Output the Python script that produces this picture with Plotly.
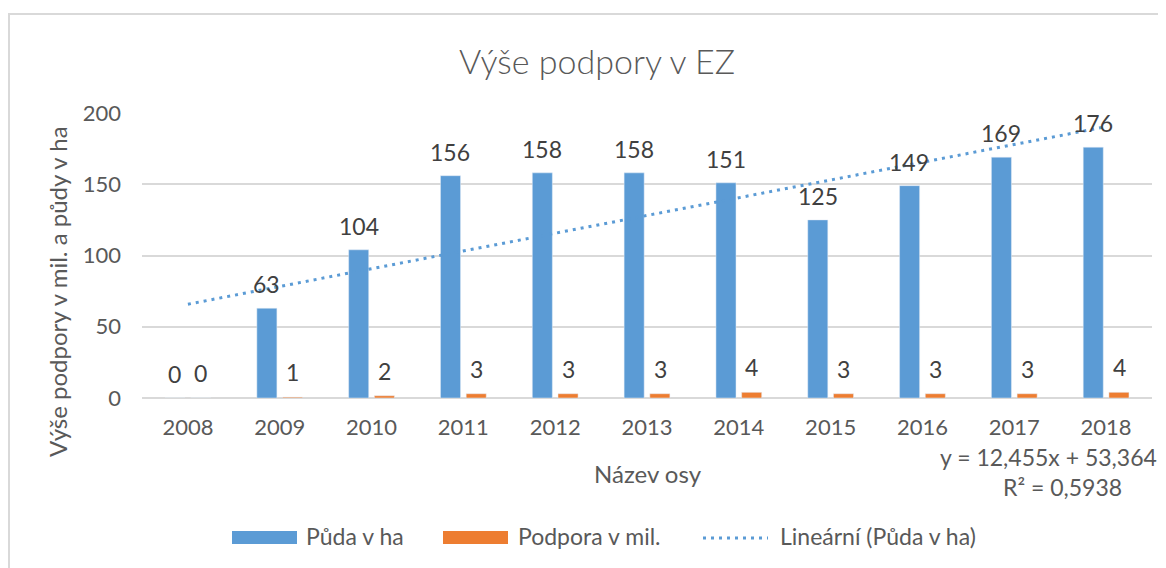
import numpy as np
import plotly.graph_objects as go

years = ["2008", "2009", "2010", "2011", "2012", "2013", "2014", "2015", "2016", "2017", "2018"]
puda = [0, 63, 104, 156, 158, 158, 151, 125, 149, 169, 176]
podpora = [0, 0.6, 1.6, 3, 3, 3, 4, 3, 3, 3, 4]

BLUE = "#5B9BD5"
ORANGE = "#ED7D31"
GRID = "#D9D9D9"
TXT = "#595959"
LBL = "#404040"
FONT = "Lato"
DOT = "3px,5px"

# page offset (body margin) and plot area in screen pixels
OFF = 8
L, R, T, B = 142, 1152, 113, 398
W, H = 1166 - OFF, 568 - OFF


def px(xp):
    return (xp - L) / (R - L)


def py(yp):
    return (B - yp) / (B - T)


# linear trend (as Excel)
xi = np.arange(1, len(puda) + 1)
slope, intercept = np.polyfit(xi, puda, 1)
trend = slope * xi + intercept
r2 = np.corrcoef(xi, puda)[0, 1] ** 2

fig = go.Figure()
fig.add_trace(go.Bar(x=years, y=puda, name="Půda v ha", marker_color=BLUE, showlegend=False))
fig.add_trace(go.Bar(x=years, y=podpora, name="Podpora v mil.", marker_color=ORANGE, showlegend=False))
fig.add_trace(go.Scatter(x=years, y=trend, mode="lines", name="Lineární (Půda v ha)",
                         line=dict(color=BLUE, width=3, dash=DOT), showlegend=False))

ann = []
for i, (a, b) in enumerate(zip(puda, podpora)):
    ann.append(dict(x=i, y=a, xref="x", yref="y", text=f"{a:.0f}", showarrow=False,
                    xanchor="center", yanchor="middle",
                    xshift=-13, yshift=24, font=dict(family=FONT, size=23, color=LBL)))
    ann.append(dict(x=i, y=b, xref="x", yref="y", text=f"{b:.0f}", showarrow=False,
                    xanchor="center", yanchor="middle",
                    xshift=13, yshift=25, font=dict(family=FONT, size=23, color=LBL)))


def pa(x, y, text, size, **kw):
    d = dict(x=px(x), y=py(y), xref="paper", yref="paper", showarrow=False, text=text,
             xanchor="center", yanchor="middle", font=dict(family=FONT, size=size, color=TXT))
    d.update(kw)
    return d


# trendline equation
ann.append(pa(1048, 457, f"y = {slope:.3f}x + {intercept:.3f}".replace(".", ","), 23))
ann.append(pa(1062, 487, f"R² = {r2:.4f}".replace(".", ","), 23))

# axis titles
ann.append(pa(648, 473, "Název osy", 24))
ann.append(pa(57, 292, "Výše podpory v mil. a půdy v ha", 24, textangle=-90))

# legend (manual)
shapes = []
shapes.append(dict(type="rect", xref="paper", yref="paper", x0=px(232), x1=px(297), y0=py(544), y1=py(531),
                   fillcolor=BLUE, line=dict(width=0)))
shapes.append(dict(type="rect", xref="paper", yref="paper", x0=px(443), x1=px(508), y0=py(544), y1=py(531),
                   fillcolor=ORANGE, line=dict(width=0)))
shapes.append(dict(type="line", xref="paper", yref="paper", x0=px(703), x1=px(768), y0=py(538), y1=py(538),
                   line=dict(color=BLUE, width=3, dash=DOT)))
for xx, t in [(304, "Půda v ha"), (516, "Podpora v mil."), (778, "Lineární (Půda v ha)")]:
    ann.append(pa(xx, 536, t, 23, xanchor="left"))

# chart border
shapes.append(dict(type="rect", xref="paper", yref="paper", x0=px(9), x1=px(1190), y0=py(600), y1=py(14),
                   line=dict(color=GRID, width=2), fillcolor="rgba(0,0,0,0)", layer="below"))

fig.update_layout(
    width=W, height=H,
    margin=dict(l=L - OFF, r=W - (R - OFF), t=T - OFF, b=H - (B - OFF)),
    paper_bgcolor="white", plot_bgcolor="white",
    barmode="group", bargap=0.44, bargroupgap=0.22,
    title=dict(text="Výše podpory v EZ", x=(597 - OFF) / W, xanchor="center",
               y=1 - (62 - OFF) / H, yanchor="middle",
               font=dict(family=FONT, size=34, color=TXT, weight=300)),
    annotations=ann, shapes=shapes,
    showlegend=False,
    xaxis=dict(type="category", range=[-0.5, len(years) - 0.5], showgrid=False, showline=False,
               ticks="", zeroline=False,
               tickfont=dict(family=FONT, size=22, color=TXT), ticklabelstandoff=14),
    yaxis=dict(range=[0, 200], tickvals=[0, 50, 100, 150, 200], showgrid=True, gridcolor=GRID,
               gridwidth=1.5, zeroline=True, zerolinecolor=GRID, zerolinewidth=1.5, showline=False,
               ticks="", tickfont=dict(family=FONT, size=22, color=TXT), ticklabelstandoff=20),
)

fig.write_html("out.html")
